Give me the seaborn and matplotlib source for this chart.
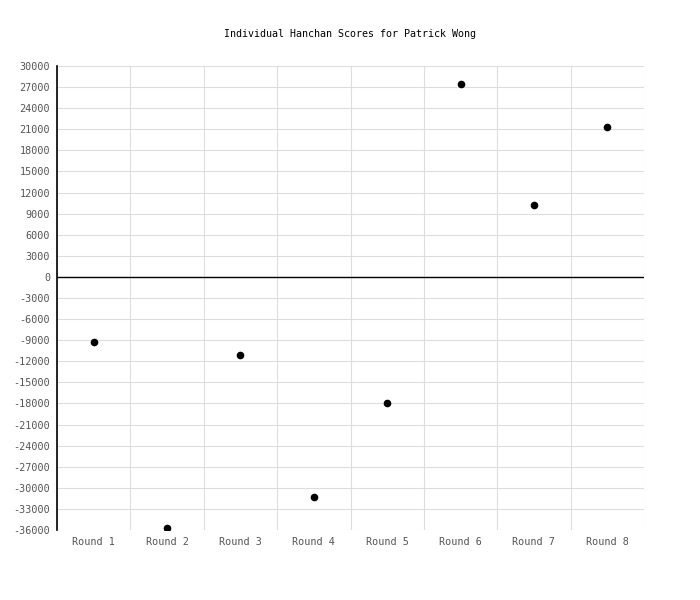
import numpy as np
import pandas as pd
import matplotlib
matplotlib.use('Agg')
import matplotlib.pyplot as plt
import seaborn as sns

rounds = ['Round 1', 'Round 2', 'Round 3', 'Round 4', 'Round 5', 'Round 6', 'Round 7', 'Round 8']
scores = [-9200, -35700, -11100, -31300, -17900, 27500, 10200, 21300]
yticks = list(range(-36000, 30001, 3000))

df = pd.DataFrame({'Round': rounds, 'Score': scores})

sns.set_style('white')
plt.rcParams['font.family'] = ['DejaVu Sans Mono']

fig = plt.figure(figsize=(7, 6), dpi=100)
ax = fig.add_axes([57 / 700, 1 - 530 / 600, 587 / 700, 464 / 600])

sns.stripplot(data=df, x='Round', y='Score', order=rounds, jitter=False,
              color='black', size=5.5, ax=ax, zorder=5)

ax.set_xlim(-0.5, len(rounds) - 0.5)
ax.set_ylim(-36000, 30000)
ax.set_yticks(yticks)
ax.set_yticklabels([str(v) for v in yticks])
ax.set_xticks(np.arange(-0.5, len(rounds), 1), minor=True)
ax.grid(True, axis='y', which='major', color='#dddddd', lw=0.8)
ax.grid(True, axis='x', which='minor', color='#dddddd', lw=0.8)
ax.grid(False, axis='x', which='major')
ax.set_axisbelow(True)
ax.axhline(0, color='black', lw=1.0, zorder=3)

for s in ['top', 'right', 'bottom']:
    ax.spines[s].set_visible(False)
ax.spines['left'].set_color('black')
ax.spines['left'].set_linewidth(1.2)

ax.tick_params(axis='both', which='both', length=0, labelsize=7.3, colors='#555555', pad=5)
ax.set_xlabel('')
ax.set_ylabel('')

fig.text(350 / 700, 1 - 34 / 600, 'Individual Hanchan Scores for Patrick Wong',
         ha='center', va='center', fontsize=7.2, color='black')

fig.savefig('out.png', dpi=100)
